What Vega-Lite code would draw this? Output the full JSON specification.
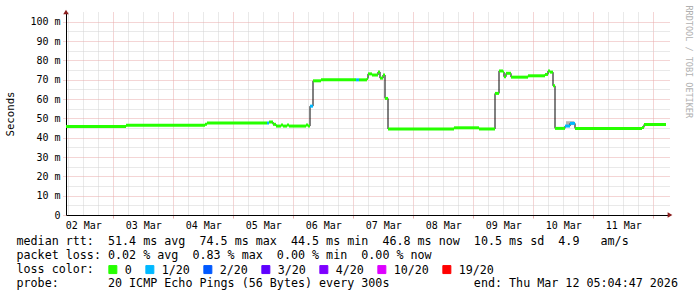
{
  "$schema": "https://vega.github.io/schema/vega-lite/v6.json",
  "width": 604,
  "height": 203,
  "autosize": {"type": "none"},
  "padding": {"left": 66, "top": 12, "right": 27, "bottom": 82},
  "background": "white",
  "config": {"view": {"stroke": null}, "font": "DejaVu Sans Mono"},
  "datasets": {
    "seg": [
      {"s": "2026-03-02T05:05", "e": "2026-03-03T05:05", "v": 45.8, "loss": "0"},
      {"s": "2026-03-03T05:05", "e": "2026-03-04T12:41", "v": 46.4, "loss": "0"},
      {"s": "2026-03-04T12:41", "e": "2026-03-04T13:29", "v": 47.0, "loss": "0"},
      {"s": "2026-03-04T13:29", "e": "2026-03-05T13:29", "v": 47.6, "loss": "0"},
      {"s": "2026-03-05T13:29", "e": "2026-03-05T14:17", "v": 47.6, "loss": "1/20"},
      {"s": "2026-03-05T14:17", "e": "2026-03-05T15:53", "v": 48.1, "loss": "0"},
      {"s": "2026-03-05T15:53", "e": "2026-03-05T17:05", "v": 46.9, "loss": "0"},
      {"s": "2026-03-05T17:05", "e": "2026-03-05T19:05", "v": 46.0, "loss": "0"},
      {"s": "2026-03-05T19:05", "e": "2026-03-05T19:53", "v": 46.5, "loss": "0"},
      {"s": "2026-03-05T19:53", "e": "2026-03-05T21:29", "v": 46.0, "loss": "0"},
      {"s": "2026-03-05T21:29", "e": "2026-03-05T22:17", "v": 46.5, "loss": "0"},
      {"s": "2026-03-05T22:17", "e": "2026-03-06T05:05", "v": 46.0, "loss": "0"},
      {"s": "2026-03-06T05:05", "e": "2026-03-06T05:53", "v": 46.5, "loss": "0"},
      {"s": "2026-03-06T05:53", "e": "2026-03-06T06:41", "v": 46.0, "loss": "0"},
      {"s": "2026-03-06T06:41", "e": "2026-03-06T07:53", "v": 56.3, "loss": "1/20"},
      {"s": "2026-03-06T07:53", "e": "2026-03-06T11:05", "v": 69.4, "loss": "0"},
      {"s": "2026-03-06T11:05", "e": "2026-03-07T01:05", "v": 69.9, "loss": "0"},
      {"s": "2026-03-07T01:05", "e": "2026-03-07T02:17", "v": 69.9, "loss": "1/20"},
      {"s": "2026-03-07T02:17", "e": "2026-03-07T05:29", "v": 69.9, "loss": "0"},
      {"s": "2026-03-07T05:29", "e": "2026-03-07T05:53", "v": 70.6, "loss": "0"},
      {"s": "2026-03-07T05:53", "e": "2026-03-07T07:29", "v": 73.0, "loss": "0"},
      {"s": "2026-03-07T07:29", "e": "2026-03-07T09:53", "v": 72.4, "loss": "0"},
      {"s": "2026-03-07T09:53", "e": "2026-03-07T10:41", "v": 74.0, "loss": "0"},
      {"s": "2026-03-07T10:41", "e": "2026-03-07T11:53", "v": 70.8, "loss": "0"},
      {"s": "2026-03-07T11:53", "e": "2026-03-07T12:41", "v": 72.4, "loss": "0"},
      {"s": "2026-03-07T12:41", "e": "2026-03-07T13:53", "v": 60.3, "loss": "0"},
      {"s": "2026-03-07T13:53", "e": "2026-03-08T16:17", "v": 44.5, "loss": "0"},
      {"s": "2026-03-08T16:17", "e": "2026-03-09T02:17", "v": 45.1, "loss": "0"},
      {"s": "2026-03-09T02:17", "e": "2026-03-09T08:41", "v": 44.5, "loss": "0"},
      {"s": "2026-03-09T08:41", "e": "2026-03-09T10:17", "v": 62.9, "loss": "0"},
      {"s": "2026-03-09T10:17", "e": "2026-03-09T11:53", "v": 74.5, "loss": "0"},
      {"s": "2026-03-09T11:53", "e": "2026-03-09T12:17", "v": 74.0, "loss": "0"},
      {"s": "2026-03-09T12:17", "e": "2026-03-09T13:05", "v": 71.5, "loss": "0"},
      {"s": "2026-03-09T13:05", "e": "2026-03-09T15:05", "v": 73.3, "loss": "0"},
      {"s": "2026-03-09T15:05", "e": "2026-03-09T21:53", "v": 71.3, "loss": "0"},
      {"s": "2026-03-09T21:53", "e": "2026-03-10T04:41", "v": 72.0, "loss": "0"},
      {"s": "2026-03-10T04:41", "e": "2026-03-10T05:53", "v": 72.7, "loss": "0"},
      {"s": "2026-03-10T05:53", "e": "2026-03-10T06:41", "v": 74.5, "loss": "0"},
      {"s": "2026-03-10T06:41", "e": "2026-03-10T07:53", "v": 73.9, "loss": "0"},
      {"s": "2026-03-10T07:53", "e": "2026-03-10T08:41", "v": 66.8, "loss": "0"},
      {"s": "2026-03-10T08:41", "e": "2026-03-10T12:41", "v": 44.8, "loss": "0"},
      {"s": "2026-03-10T12:41", "e": "2026-03-10T14:41", "v": 46.0, "loss": "1/20"},
      {"s": "2026-03-10T14:41", "e": "2026-03-10T16:41", "v": 47.4, "loss": "1/20"},
      {"s": "2026-03-10T16:41", "e": "2026-03-11T19:29", "v": 44.8, "loss": "0"},
      {"s": "2026-03-11T19:29", "e": "2026-03-11T20:17", "v": 45.3, "loss": "0"},
      {"s": "2026-03-11T20:17", "e": "2026-03-12T05:05", "v": 46.8, "loss": "0"}
    ],
    "smoke": [
      {"s": "2026-03-10T13:05", "e": "2026-03-10T16:17", "lo": 46.5, "hi": 48.5}
    ],
    "arrows": [
      {"t": "2026-03-02T05:05", "v": 105, "shape": "triangle-up"},
      {"t": "2026-03-12T06:41", "v": 0, "shape": "triangle-right"}
    ]
  },
  "resolve": {"axis": {"x": "independent", "y": "independent"}},
  "layer": [
    {
      "data": {"name": "smoke"},
      "mark": {"type": "rect", "color": "#b4b4b4"},
      "encoding": {
        "x": {
          "field": "s", "type": "temporal",
          "scale": {"domain": [{"year": 2026, "month": 3, "date": 2, "hours": 5, "minutes": 5}, {"year": 2026, "month": 3, "date": 12, "hours": 6, "minutes": 41}], "nice": false},
          "axis": {
            "orient": "bottom", "domain": false, "ticks": false, "labels": false, "title": null,
            "grid": true, "gridColor": "#d2d2d2", "gridDash": [1, 1], "gridWidth": 1,
            "values": [
              {"year": 2026, "month": 3, "date": 2, "hours": 6}, {"year": 2026, "month": 3, "date": 2, "hours": 12}, {"year": 2026, "month": 3, "date": 2, "hours": 18},
              {"year": 2026, "month": 3, "date": 3, "hours": 6}, {"year": 2026, "month": 3, "date": 3, "hours": 12}, {"year": 2026, "month": 3, "date": 3, "hours": 18},
              {"year": 2026, "month": 3, "date": 4, "hours": 6}, {"year": 2026, "month": 3, "date": 4, "hours": 12}, {"year": 2026, "month": 3, "date": 4, "hours": 18},
              {"year": 2026, "month": 3, "date": 5, "hours": 6}, {"year": 2026, "month": 3, "date": 5, "hours": 12}, {"year": 2026, "month": 3, "date": 5, "hours": 18},
              {"year": 2026, "month": 3, "date": 6, "hours": 6}, {"year": 2026, "month": 3, "date": 6, "hours": 12}, {"year": 2026, "month": 3, "date": 6, "hours": 18},
              {"year": 2026, "month": 3, "date": 7, "hours": 6}, {"year": 2026, "month": 3, "date": 7, "hours": 12}, {"year": 2026, "month": 3, "date": 7, "hours": 18},
              {"year": 2026, "month": 3, "date": 8, "hours": 6}, {"year": 2026, "month": 3, "date": 8, "hours": 12}, {"year": 2026, "month": 3, "date": 8, "hours": 18},
              {"year": 2026, "month": 3, "date": 9, "hours": 6}, {"year": 2026, "month": 3, "date": 9, "hours": 12}, {"year": 2026, "month": 3, "date": 9, "hours": 18},
              {"year": 2026, "month": 3, "date": 10, "hours": 6}, {"year": 2026, "month": 3, "date": 10, "hours": 12}, {"year": 2026, "month": 3, "date": 10, "hours": 18},
              {"year": 2026, "month": 3, "date": 11, "hours": 6}, {"year": 2026, "month": 3, "date": 11, "hours": 12}, {"year": 2026, "month": 3, "date": 11, "hours": 18}
            ]
          }
        },
        "x2": {"field": "e"},
        "y": {
          "field": "lo", "type": "quantitative",
          "scale": {"domain": [0, 105], "nice": false, "zero": true},
          "axis": {
            "orient": "left", "domain": false, "ticks": false, "labels": false,
            "grid": true, "gridColor": "#d2d2d2", "gridDash": [1, 1], "gridWidth": 1,
            "values": [5, 15, 25, 35, 45, 55, 65, 75, 85, 95],
            "title": "RRDTOOL / TOBI OETIKER",
            "titleFont": "DejaVu Sans Mono", "titleFontSize": 8.5, "titleFontWeight": "normal", "titleColor": "#b0b0b0",
            "titleAngle": 90, "titleX": 622, "titleY": -7, "titleAlign": "left", "titleBaseline": "middle"
          }
        },
        "y2": {"field": "hi"}
      }
    },
    {
      "data": {"name": "seg"},
      "mark": {"type": "line", "interpolate": "step-after", "color": "black", "strokeWidth": 1},
      "encoding": {
        "x": {
          "field": "s", "type": "temporal",
          "axis": {
            "orient": "bottom",
            "values": [
              {"year": 2026, "month": 3, "date": 3}, {"year": 2026, "month": 3, "date": 4}, {"year": 2026, "month": 3, "date": 5},
              {"year": 2026, "month": 3, "date": 6}, {"year": 2026, "month": 3, "date": 7}, {"year": 2026, "month": 3, "date": 8},
              {"year": 2026, "month": 3, "date": 9}, {"year": 2026, "month": 3, "date": 10}, {"year": 2026, "month": 3, "date": 11},
              {"year": 2026, "month": 3, "date": 12}
            ],
            "labelExpr": "timeFormat(datum.value - 86400000, '%d %b')",
            "labelOffset": -30,
            "labelFont": "DejaVu Sans Mono", "labelFontSize": 10, "labelColor": "black",
            "labelPadding": 2, "labelFlush": false, "labelOverlap": false,
            "grid": true, "gridColor": "#e8aaaa", "gridDash": [1, 1], "gridWidth": 1,
            "ticks": true, "tickColor": "#e8aaaa", "tickSize": 3, "tickWidth": 1,
            "domain": true, "domainColor": "black", "domainWidth": 1,
            "title": [
              "median\u00a0rtt:\u00a0\u00a051.4\u00a0ms\u00a0avg\u00a0\u00a074.5\u00a0ms\u00a0max\u00a0\u00a044.5\u00a0ms\u00a0min\u00a0\u00a046.8\u00a0ms\u00a0now\u00a0\u00a010.5\u00a0ms\u00a0sd\u00a0\u00a04.9\u00a0\u00a0\u00a0am/s",
              "packet\u00a0loss:\u00a00.02\u00a0%\u00a0avg\u00a0\u00a00.83\u00a0%\u00a0max\u00a0\u00a00.00\u00a0%\u00a0min\u00a0\u00a00.00\u00a0%\u00a0now",
              "loss\u00a0color:",
              "probe:\u00a0\u00a0\u00a0\u00a0\u00a0\u00a0\u00a020\u00a0ICMP\u00a0Echo\u00a0Pings\u00a0(56\u00a0Bytes)\u00a0every\u00a0300s\u00a0\u00a0\u00a0\u00a0\u00a0\u00a0\u00a0\u00a0\u00a0\u00a0\u00a0\u00a0end:\u00a0Thu\u00a0Mar\u00a012\u00a005:04:47\u00a02026"
            ],
            "titleFont": "DejaVu Sans Mono", "titleFontSize": 11.7, "titleFontWeight": "normal", "titleColor": "black",
            "titleLineHeight": 13.9, "titleX": -50, "titleY": 20.5, "titleAlign": "left", "titleBaseline": "top", "titleAngle": 0
          }
        },
        "y": {
          "field": "v", "type": "quantitative",
          "axis": {
            "orient": "left",
            "values": [0, 10, 20, 30, 40, 50, 60, 70, 80, 90, 100],
            "labelExpr": "datum.value == 0 ? '0' : datum.value + ' m'",
            "labelFont": "DejaVu Sans Mono", "labelFontSize": 10, "labelColor": "black", "labelPadding": 3,
            "labelFlush": false, "labelOverlap": false,
            "grid": true, "gridColor": "#e8aaaa", "gridDash": [1, 1], "gridWidth": 1,
            "ticks": true, "tickColor": "#e8aaaa", "tickSize": 3, "tickDash": [1, 1],
            "domain": true, "domainColor": "black", "domainWidth": 1,
            "title": "Seconds",
            "titleFont": "DejaVu Sans Mono", "titleFontSize": 10.7, "titleFontWeight": "normal", "titleColor": "black",
            "titleAngle": -90, "titleX": -56, "titleY": 101.5, "titleAlign": "center", "titleBaseline": "middle"
          }
        }
      }
    },
    {
      "data": {"name": "seg"},
      "mark": {"type": "rule", "strokeWidth": 3, "strokeCap": "butt"},
      "encoding": {
        "x": {"field": "s", "type": "temporal", "axis": null},
        "x2": {"field": "e"},
        "y": {"field": "v", "type": "quantitative", "axis": null},
        "color": {
          "field": "loss", "type": "nominal",
          "scale": {"domain": ["0", "1/20", "2/20", "3/20", "4/20", "10/20", "19/20"], "range": ["#26ff00", "#00b8ff", "#0059ff", "#5e00ff", "#7e00ff", "#dd00ff", "#ff0000"]},
          "legend": {
            "orient": "none", "legendX": 41, "legendY": 251.5, "direction": "horizontal", "columns": 7,
            "title": null, "padding": 0,
            "symbolType": "square", "symbolSize": 64, "symbolStrokeColor": "black", "symbolStrokeWidth": 1, "symbolOpacity": 1,
            "labelFont": "DejaVu Sans Mono", "labelFontSize": 11.7, "labelColor": "black", "labelOffset": 6,
            "columnPadding": 11, "rowPadding": 0,
            "encode": {
              "symbols": {
                "update": {
                  "fill": {"scale": "color", "field": "value"},
                  "stroke": {"value": "black"},
                  "strokeWidth": {"value": 1},
                  "shape": {"value": "square"},
                  "opacity": {"value": 1}
                }
              }
            }
          }
        }
      }
    },
    {
      "data": {"name": "arrows"},
      "mark": {"type": "point", "filled": true, "color": "#8b1e1e", "opacity": 1, "size": 30},
      "encoding": {
        "x": {"field": "t", "type": "temporal", "axis": null},
        "y": {"field": "v", "type": "quantitative", "axis": null},
        "shape": {"field": "shape", "type": "nominal", "scale": null}
      }
    }
  ]
}
